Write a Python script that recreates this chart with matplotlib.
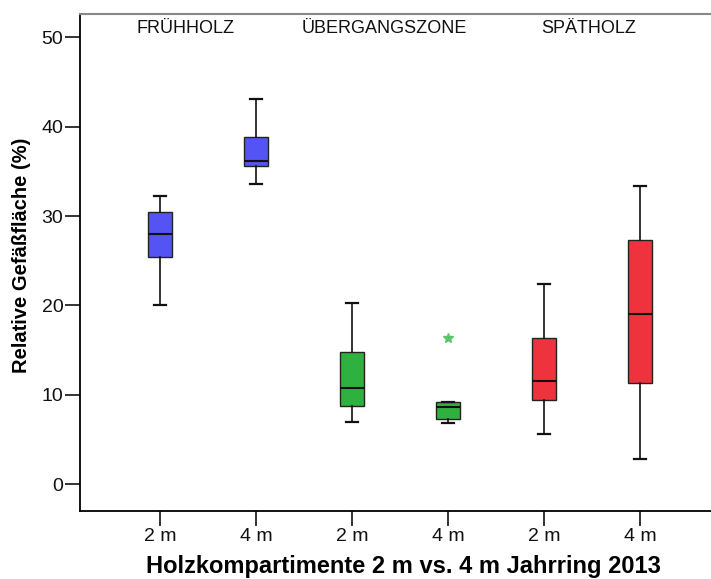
import matplotlib
matplotlib.use("Agg")
import matplotlib.pyplot as plt

# values (Relative Gefäßfläche, %)
labels = ["2 m", "4 m", "2 m", "4 m", "2 m", "4 m"]
whislo = [20.0, 33.6, 7.0, 6.8, 5.6, 2.8]
q1 = [25.4, 35.6, 8.8, 7.35, 9.4, 11.3]
med = [28.0, 36.2, 10.8, 8.6, 11.6, 19.0]
q3 = [30.4, 38.8, 14.8, 9.25, 16.4, 27.3]
whishi = [32.2, 43.1, 20.3, 9.25, 22.4, 33.4]
fliers = [[], [], [], [16.4], [], []]
colors = ["#5454f4", "#5454f4", "#2fb140", "#2fb140", "#ee333e", "#ee333e"]

groups = ["FRÜHHOLZ", "ÜBERGANGSZONE", "SPÄTHOLZ"]
group_x = [1.27, 3.34, 5.47]

plt.rcParams["font.family"] = ["Liberation Sans", "DejaVu Sans"]

fig = plt.figure(figsize=(7.11, 5.79), dpi=100)
ax = fig.add_axes([0.1125, 0.1174, 0.8875, 0.8584])

stats = []
for i in range(len(labels)):
    stats.append(dict(whislo=whislo[i], q1=q1[i], med=med[i], q3=q3[i],
                      whishi=whishi[i], fliers=fliers[i]))

pos = list(range(1, len(labels) + 1))
bp = ax.bxp(stats, positions=pos, widths=0.25, patch_artist=True,
            showcaps=True,
            boxprops=dict(linewidth=1.0, edgecolor="#222222"),
            medianprops=dict(color="#111111", linewidth=1.5),
            whiskerprops=dict(color="#111111", linewidth=1.2),
            capprops=dict(color="#111111", linewidth=1.6),
            flierprops=dict(marker="*", markersize=7, markeredgecolor="#5cc46a",
                            markerfacecolor="#5cc46a", linestyle="none"))
for patch, c in zip(bp["boxes"], colors):
    patch.set_facecolor(c)
for cap in bp["caps"]:
    x0, x1 = cap.get_xdata()
    xm = (x0 + x1) / 2
    cap.set_xdata([xm - 0.065, xm + 0.065])

ax.set_xlim(0.167, 6.74)
ax.set_ylim(-3.0, 52.6)
ax.set_yticks([0, 10, 20, 30, 40, 50])
ax.set_xticks(pos)
ax.set_xticklabels(labels)
ax.tick_params(axis="both", direction="out", length=11, width=1.2,
               labelsize=14, colors="#111111")
ax.tick_params(axis="x", pad=1)
ax.tick_params(axis="y", pad=1)

for gx, g in zip(group_x, groups):
    ax.text(gx, 51.0, g, ha="center", va="center", fontsize=13, color="#111111")

ax.set_ylabel("Relative Gefäßfläche (%)", fontsize=14.5, fontweight="bold")
ax.yaxis.set_label_coords(-0.078, 0.515)
ax.set_xlabel("Holzkompartimente 2 m vs. 4 m Jahrring 2013", fontsize=17,
              fontweight="bold")
ax.xaxis.label.set_va("center")
ax.xaxis.set_label_coords(0.513, -0.111)

ax.spines["right"].set_visible(False)
ax.spines["top"].set_color("#888888")
ax.spines["top"].set_linewidth(1.5)
ax.spines["left"].set_linewidth(1.3)
ax.spines["bottom"].set_linewidth(1.3)

fig.savefig("out.png", dpi=100)
